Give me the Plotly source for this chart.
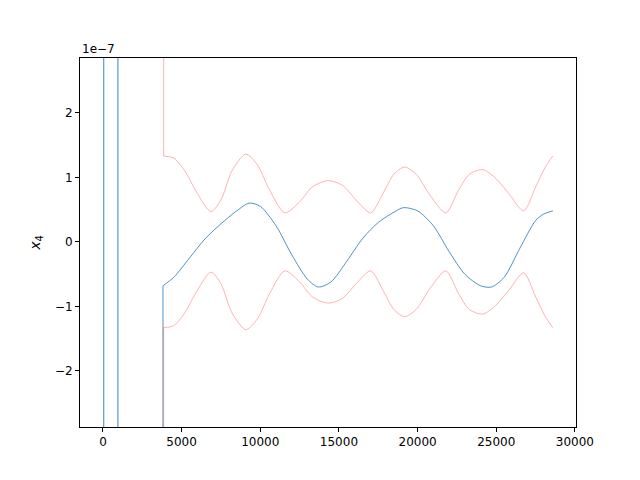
import plotly.graph_objects as go

# values in units of 1e-7
blue_x = [3815, 4500, 5500, 6500, 7500, 8500, 9300, 10000, 11000, 12000, 13000, 13700, 14500, 15500,
          16500, 17500, 18500, 19100, 20000, 21000, 22000, 23000, 24000, 24700, 25500, 26500, 27500, 28000, 28600]
blue_y = [-0.68, -0.55, -0.25, 0.05, 0.28, 0.48, 0.60, 0.55, 0.25, -0.20, -0.58, -0.70, -0.62, -0.30,
          0.05, 0.30, 0.46, 0.53, 0.48, 0.25, -0.15, -0.50, -0.68, -0.70, -0.55, -0.10, 0.33, 0.43, 0.48]
spike_x = [50, 950]
spike_lo, spike_hi = -10.0, 10.0
red_x = [3860, 4500, 5200, 6000, 6860, 7500, 8200, 9080, 9800, 10600, 11560, 12500, 13300, 14290, 15200,
         16200, 17020, 17800, 18500, 19180, 19900, 20800, 21790, 22600, 23300, 24140, 24900, 25800, 26740,
         27500, 28100, 28590]
red_y = [1.33, 1.30, 1.10, 0.75, 0.47, 0.65, 1.10, 1.36, 1.20, 0.80, 0.45, 0.62, 0.85, 0.95, 0.88,
         0.62, 0.45, 0.75, 1.05, 1.16, 1.05, 0.72, 0.45, 0.80, 1.05, 1.12, 1.00, 0.75, 0.48,
         0.85, 1.15, 1.33]
x_ticks = [0, 5000, 10000, 15000, 20000, 25000, 30000]
y_ticks = [-2, -1, 0, 1, 2]

blue = "#1f77b4"
red = "rgba(255,80,80,0.55)"
fig = go.Figure()
for sx in spike_x:
    fig.add_trace(go.Scatter(x=[sx, sx], y=[spike_lo, spike_hi], mode="lines",
                             line=dict(color=blue, width=0.9)))
fig.add_trace(go.Scatter(x=[blue_x[0], blue_x[0]], y=[spike_lo, blue_y[0]], mode="lines",
                         line=dict(color=blue, width=0.8)))
fig.add_trace(go.Scatter(x=blue_x, y=blue_y, mode="lines",
                         line=dict(color=blue, width=0.8, shape="spline", smoothing=0.8)))
neg = [-v for v in red_y]
fig.add_trace(go.Scatter(x=[red_x[0], red_x[0]], y=[spike_hi, red_y[0]], mode="lines",
                         line=dict(color=red, width=0.8)))
fig.add_trace(go.Scatter(x=[red_x[0], red_x[0]], y=[spike_lo, neg[0]], mode="lines",
                         line=dict(color=red, width=0.8)))
fig.add_trace(go.Scatter(x=red_x, y=red_y, mode="lines",
                         line=dict(color=red, width=0.8, shape="spline", smoothing=0.8)))
fig.add_trace(go.Scatter(x=red_x, y=neg, mode="lines",
                         line=dict(color=red, width=0.8, shape="spline", smoothing=0.8)))

ax = dict(showgrid=False, zeroline=False, showline=True, linecolor="black", linewidth=1,
          mirror=True, ticks="outside", ticklen=4, tickcolor="black")
fig.update_layout(
    width=640, height=480, showlegend=False, plot_bgcolor="white", paper_bgcolor="white",
    margin=dict(l=72, r=72, t=50, b=61),
    font=dict(family="DejaVu Sans", size=12, color="black"),
    xaxis=dict(range=[-1460, 30070], tickvals=x_ticks, ticktext=[str(v) for v in x_ticks], **ax),
    yaxis=dict(range=[-2.87, 2.85], tickvals=y_ticks,
               ticktext=[str(v).replace("-", "−") for v in y_ticks],
               title=dict(text="<i>x</i><sub>4</sub>", standoff=10), **ax),
    annotations=[dict(text="1e−7", xref="paper", yref="paper", x=0, y=1, xanchor="left",
                      yanchor="bottom", showarrow=False, font=dict(size=12))],
)
fig.write_html("out.html")
